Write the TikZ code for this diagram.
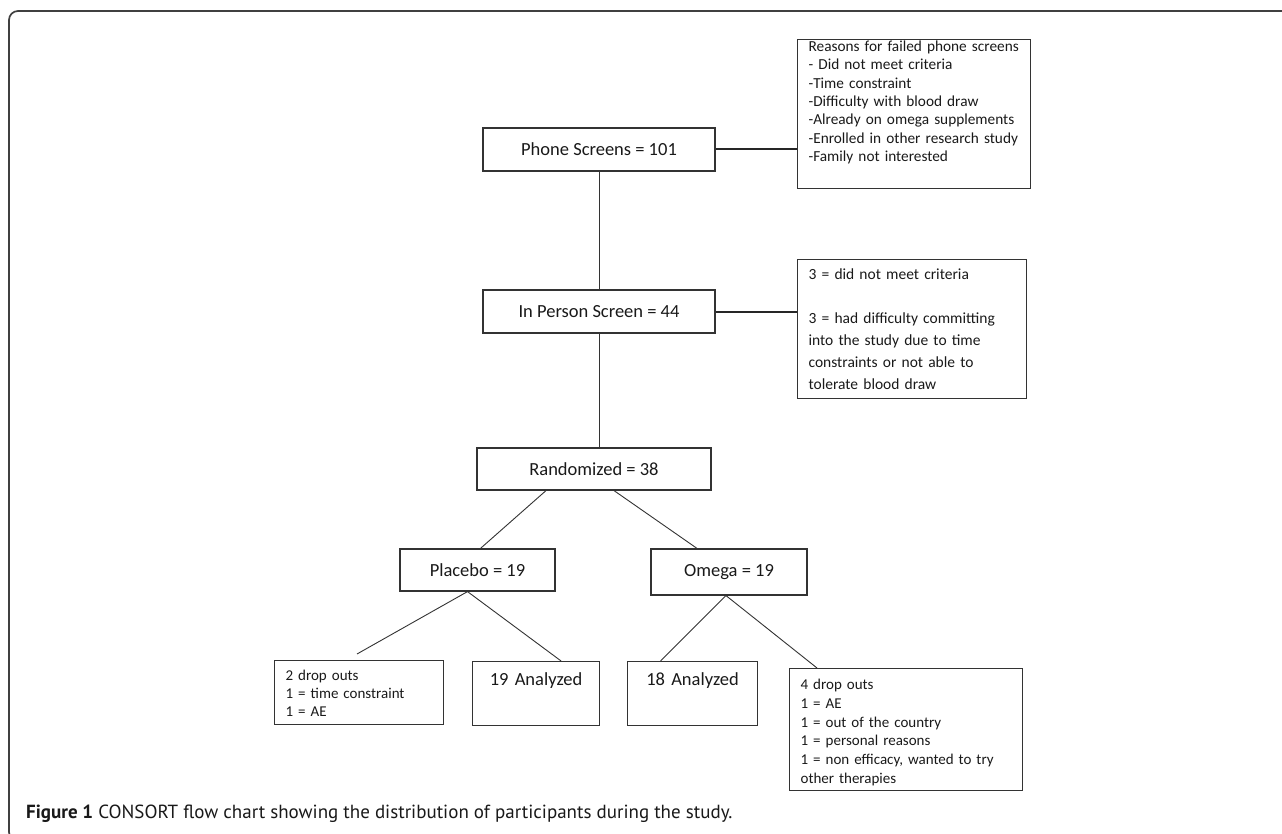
\documentclass[tikz,border=0pt]{standalone}
\usepackage{fontspec}
\usepackage{tikz}
\setmainfont{Carlito}
\newfontfamily\capfont{PT Sans}

\begin{document}
\begin{tikzpicture}[x=1pt,y=-1pt,
		box/.style={draw=black!80,line width=1.2pt,text=black!90,font=\fontsize{18.5}{22}\selectfont,minimum height=43pt},
		note/.style={draw=black!80,line width=1.2pt,text=black!90,anchor=north west,align=left,inner xsep=11pt,inner ysep=0pt},
		link/.style={draw=black!80,line width=0.9pt},
		side/.style={draw=black!85,line width=2pt}]
			\useasboundingbox (0,0) rectangle (1282,834);
			\begin{scope}
				\clip (0,0) rectangle (1282,834);
				\draw[black!75,line width=1.7pt,rounded corners=9pt] (9,11) rectangle (1300,841);
			\end{scope}
			
			% screens
			
			\node[box,minimum width=232pt] (phone) at (599,149.5) {Phone Screens = 101};
			\node[box,minimum width=232pt] (inperson) at (599,311.5) {In Person Screen = 44};
			\node[note,text width=211pt,text height=12pt,text depth=137pt,font=\fontsize{15.3}{18.3}\selectfont] (reasons) at (797,39) {Reasons for failed phone screens\\- Did not meet criteria\\-Time constraint\\-Difficulty with blood draw\\-Already on omega supplements\\-Enrolled in other research study\\-Family not interested};
			\node[note,text width=207pt,text height=20pt,text depth=119pt,font=\fontsize{15.5}{22}\selectfont] (scr) at (797,259) {3 = did not meet criteria\\[22pt]3 = had difficulty committing\\into the study due to time\\constraints or not able to\\tolerate blood draw};
			\draw[side] (phone.east) -- (phone.east -| reasons.west);
			\draw[side] (inperson.east) -- (inperson.east -| scr.west);
			\draw[link] (phone.south) -- (inperson.north);
			
			% arms
			
			\node[box,minimum width=234pt,minimum height=42pt] (rand) at (594,469) {Randomized = 38};
			\node[box,minimum width=155pt,minimum height=42pt] (placebo) at (477.5,570) {Placebo = 19};
			\node[box,minimum width=156pt,minimum height=46pt] (omega) at (729,572) {Omega = 19};
			\draw[link] (inperson.south) -- (inperson.south |- rand.north);
			\draw[link] ([xshift=-48pt]rand.south) -- ([xshift=3pt]placebo.north);
			\draw[link] ([xshift=20pt]rand.south) -- ([xshift=-32pt]omega.north);
			
			% outcomes
			
			\node[note,text width=147pt,text height=20pt,text depth=44pt,font=\fontsize{15}{18}\selectfont] (dropP) at (274,660) {2 drop outs\\1 = time constraint\\1 = AE};
			\node[note,align=center,inner xsep=10pt,text width=107pt,text height=24pt,text depth=40pt,font=\fontsize{18.5}{22}\selectfont] (anaP) at (472,661) {19 Analyzed};
			\node[note,align=center,inner xsep=10pt,text width=110pt,text height=24pt,text depth=40pt,font=\fontsize{18.5}{22}\selectfont] (anaO) at (627,661) {18 Analyzed};
			\node[note,text width=211pt,text height=21pt,text depth=101pt,font=\fontsize{15}{18.7}\selectfont] (dropO) at (789,668) {4 drop outs\\1 = AE\\1 = out of the country\\1 = personal reasons\\1 = non efficacy, wanted to try\\other therapies};
			\coordinate (cutP) at (357,654);
			\draw[link] ([xshift=-10pt]placebo.south) -- (cutP);
			\draw[link] ([xshift=-10pt]placebo.south) -- ([xshift=25pt]anaP.north);
			\draw[link] ([xshift=-3pt]omega.south) -- ([xshift=-32pt]anaO.north);
			\draw[link] ([xshift=-3pt]omega.south) -- ([xshift=28pt]dropO.north west);
			
			\node[anchor=base west,inner sep=0pt,text=black!90,font=\capfont\fontsize{19}{22}\selectfont] (caption) at (26,818) {\textbf{Figure 1} CONSORT flow chart showing the distribution of participants during the study.};
			
		\end{tikzpicture}
\end{document}
